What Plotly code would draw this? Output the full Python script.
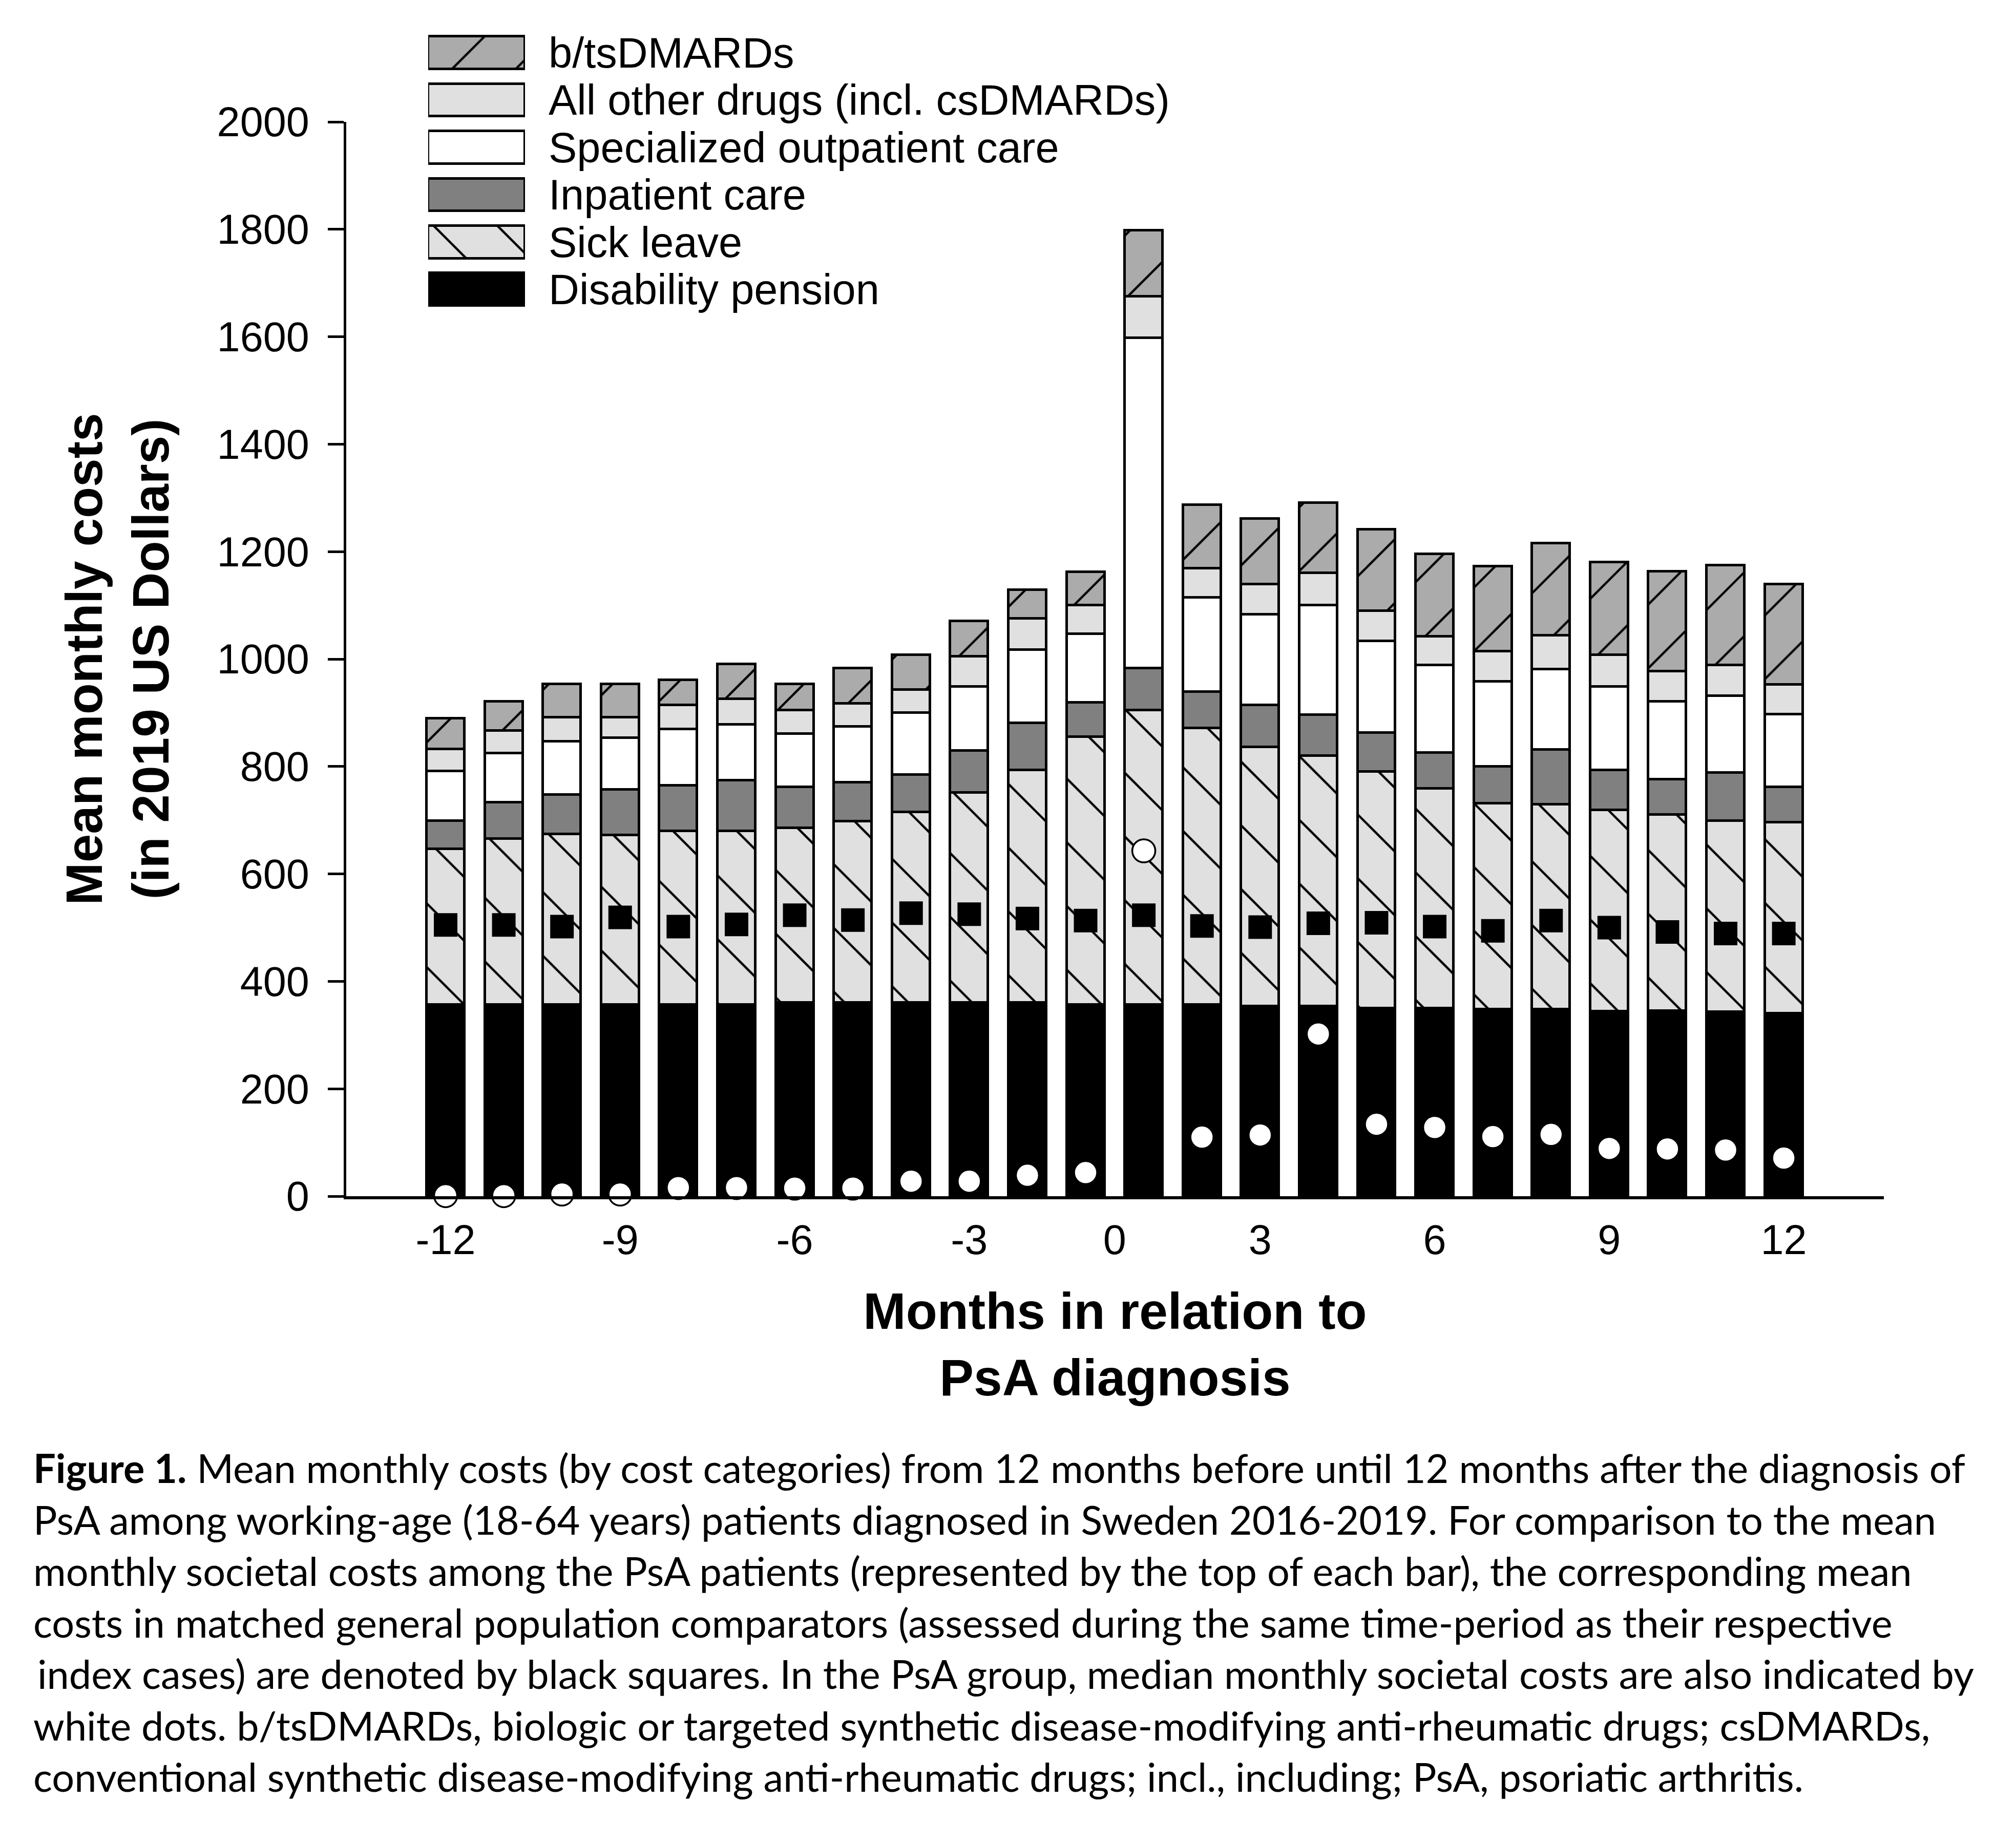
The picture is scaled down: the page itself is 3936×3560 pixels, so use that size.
import numpy as np
import plotly.graph_objects as go

# ---------------- data ----------------
months = [-12, -11, -10, -9, -8, -7, -6, -5, -4, -3, -2, -1,
          1, 2, 3, 4, 5, 6, 7, 8, 9, 10, 11, 12]
disability_pension = [357, 357, 357, 357, 357, 357, 360, 360, 360, 360, 360, 357,
                      357, 357, 354, 354, 350, 350, 348, 348, 344, 345, 343, 340]
sick_leave = [289, 308, 317, 315, 323, 323, 325, 338, 355, 391, 433, 498,
              548, 514, 482, 466, 440, 409, 383, 381, 375, 365, 356, 356]
inpatient_care = [53, 68, 73, 85, 85, 94, 77, 72, 70, 78, 88, 64,
                  78, 68, 78, 76, 73, 67, 69, 102, 74, 66, 89, 66]
outpatient_care = [92, 92, 100, 96, 104, 104, 99, 104, 115, 120, 136, 128,
                   615, 175, 169, 204, 170, 163, 158, 150, 156, 145, 143, 135]
other_drugs = [41, 42, 44, 38, 45, 48, 44, 43, 43, 56, 58, 53,
               77, 55, 56, 60, 57, 53, 56, 63, 59, 56, 58, 55]
bts_dmards = [57, 54, 62, 62, 47, 64, 48, 66, 65, 66, 54, 62,
              123, 118, 122, 131, 151, 153, 159, 171, 172, 186, 185, 187]
comparator_mean = [505, 505, 502, 519, 502, 506, 523, 514, 527, 525, 517, 513,
                   523, 503, 501, 508, 509, 502, 494, 513, 500, 492, 489, 489]
psa_median = [1, 1, 4, 4, 16, 16, 15, 15, 28, 28, 39, 44,
              643, 110, 114, 302, 134, 128, 111, 115, 89, 88, 86, 71]

tick_months = [-12, -9, -6, -3, 0, 3, 6, 9, 12]
tick_labels = ["-12", "-9", "-6", "-3", "0", "3", "6", "9", "12"]
y_ticks = [0, 200, 400, 600, 800, 1000, 1200, 1400, 1600, 1800, 2000]

legend_names = ["b/tsDMARDs", "All other drugs (incl. csDMARDs)",
                "Specialized outpatient care", "Inpatient care",
                "Sick leave", "Disability pension"]

caption_lines = [
    "<b>Figure 1.</b> Mean monthly costs (by cost categories) from 12 months before until 12 months after the diagnosis of",
    "PsA among working-age (18-64 years) patients diagnosed in Sweden 2016-2019. For comparison to the mean",
    "monthly societal costs among the PsA patients (represented by the top of each bar), the corresponding mean",
    "costs in matched general population comparators (assessed during the same time-period as their respective",
    "index cases) are denoted by black squares. In the PsA group, median monthly societal costs are also indicated by",
    "white dots. b/tsDMARDs, biologic or targeted synthetic disease-modifying anti-rheumatic drugs; csDMARDs,",
    "conventional synthetic disease-modifying anti-rheumatic drugs; incl., including; PsA, psoriatic arthritis.",
]

# ---------------- helpers ----------------
def month_pos(m):
    # months -12..-1 and 1..12 are consecutive slots; 0 sits between -1 and 1
    m = np.asarray(m, dtype=float)
    return m + 11.5 - 0.5 * np.sign(m)

x = month_pos(months)

FONT = "Liberation Sans"
LINE_W = 5
HATCH = 88
SOLID = 0.05

styles = {
    "b/tsDMARDs": dict(color="#ababab", shape="/"),
    "All other drugs (incl. csDMARDs)": dict(color="#e0e0e0", shape=""),
    "Specialized outpatient care": dict(color="#ffffff", shape=""),
    "Inpatient care": dict(color="#808080", shape=""),
    "Sick leave": dict(color="#e0e0e0", shape="\\"),
    "Disability pension": dict(color="#000000", shape=""),
}

def marker_for(name):
    st = styles[name]
    return dict(
        color=st["color"],
        line=dict(color="black", width=LINE_W),
        pattern=dict(shape=st["shape"], fgcolor="black", bgcolor=st["color"],
                     size=HATCH, solidity=SOLID, fillmode="replace"),
    )

fig = go.Figure()

series = [
    ("Disability pension", disability_pension),
    ("Sick leave", sick_leave),
    ("Inpatient care", inpatient_care),
    ("Specialized outpatient care", outpatient_care),
    ("All other drugs (incl. csDMARDs)", other_drugs),
    ("b/tsDMARDs", bts_dmards),
]
for name, vals in series:
    fig.add_trace(go.Bar(x=x, y=vals, name=name, width=0.651,
                         marker=marker_for(name), showlegend=False,
                         xaxis="x", yaxis="y"))

fig.add_trace(go.Scatter(x=x, y=comparator_mean, mode="markers",
                         name="Comparators (mean)", showlegend=False,
                         marker=dict(symbol="square", size=46, color="black"),
                         cliponaxis=False))
fig.add_trace(go.Scatter(x=x, y=psa_median, mode="markers",
                         name="PsA (median)", showlegend=False,
                         marker=dict(symbol="circle", size=45, color="white",
                                     line=dict(color="black", width=3.5)),
                         cliponaxis=False))

# legend drawn as a small horizontal bar chart (swatches) on its own axes
for name in legend_names:
    fig.add_trace(go.Bar(y=[name], x=[1], orientation="h", width=0.69,
                         marker=marker_for(name), showlegend=False,
                         xaxis="x2", yaxis="y2", hoverinfo="skip"))

# ---------------- layout ----------------
# the page body adds an 8px margin, so figure coords = screen coords - 8
OFF = 8
W, H = 3936 - 2 * OFF, 3560 - 2 * OFF
PL, PR, PT, PB = 676 - OFF, 3678 - OFF, 40, 2336 - OFF   # plot box (figure px)
ML, MR, MT, MB = PL, W - PR, PT, H - PB
plot_w = W - ML - MR
plot_h = H - MT - MB

def px_x(sx):
    return (sx - OFF - ML) / plot_w

def px_y(sy):
    return (H - MB - (sy - OFF)) / plot_h

fig.update_layout(
    width=W, height=H,
    margin=dict(l=ML, r=MR, t=MT, b=MB, autoexpand=False),
    paper_bgcolor="white", plot_bgcolor="white",
    barmode="stack", bargap=0,
    font=dict(family=FONT, color="black", size=81),
    showlegend=False,
    xaxis=dict(
        domain=[0, 1], range=[-1.708, 24.72],
        tickmode="array", tickvals=month_pos(tick_months), ticktext=tick_labels,
        ticks="", showline=True, linewidth=6, linecolor="black",
        showgrid=False, zeroline=False,
        tickfont=dict(family=FONT, size=81, color="black"),
        ticklabelstandoff=10,
        title=dict(text="Months in relation to<br>PsA diagnosis",
                   font=dict(family=FONT, size=100, color="black", weight="bold"),
                   standoff=62),
    ),
    yaxis=dict(
        domain=[0, px_y(238)], range=[0, 2000],
        tickmode="array", tickvals=y_ticks,
        ticks="outside", ticklen=31, tickwidth=5, tickcolor="black",
        showline=True, linewidth=5, linecolor="black",
        showgrid=False, zeroline=False,
        tickfont=dict(family=FONT, size=81, color="black"),
        ticklabelstandoff=20,
        title=dict(text="Mean monthly costs<br>(in 2019 US Dollars)",
                   font=dict(family=FONT, size=100, color="black", weight="bold"),
                   standoff=62),
    ),
    xaxis2=dict(domain=[px_x(836), px_x(1025)], range=[0, 1], anchor="y2",
                visible=False, fixedrange=True),
    yaxis2=dict(domain=[px_y(611.2), px_y(56.8)], anchor="x2", side="right",
                type="category", categoryorder="array",
                categoryarray=list(reversed(legend_names)),
                tickmode="array", tickvals=legend_names, ticktext=legend_names,
                range=[-0.5, 5.5], showline=False, showgrid=False,
                zeroline=False, ticks="", ticklabelstandoff=45,
                tickfont=dict(family=FONT, size=83, color="black"),
                fixedrange=True),
)

line_centers = [2866, 2967, 3067, 3168, 3268, 3369, 3469]
for i, (txt, yc) in enumerate(zip(caption_lines, line_centers)):
    fig.add_annotation(text=txt, xref="paper", yref="paper",
                       x=px_x(63 + (8 if i == 4 else 0)), y=px_y(yc),
                       xanchor="left", yanchor="middle", showarrow=False,
                       align="left",
                       font=dict(family="Lato", size=77.5, color="black"))

fig.write_html("out.html")
